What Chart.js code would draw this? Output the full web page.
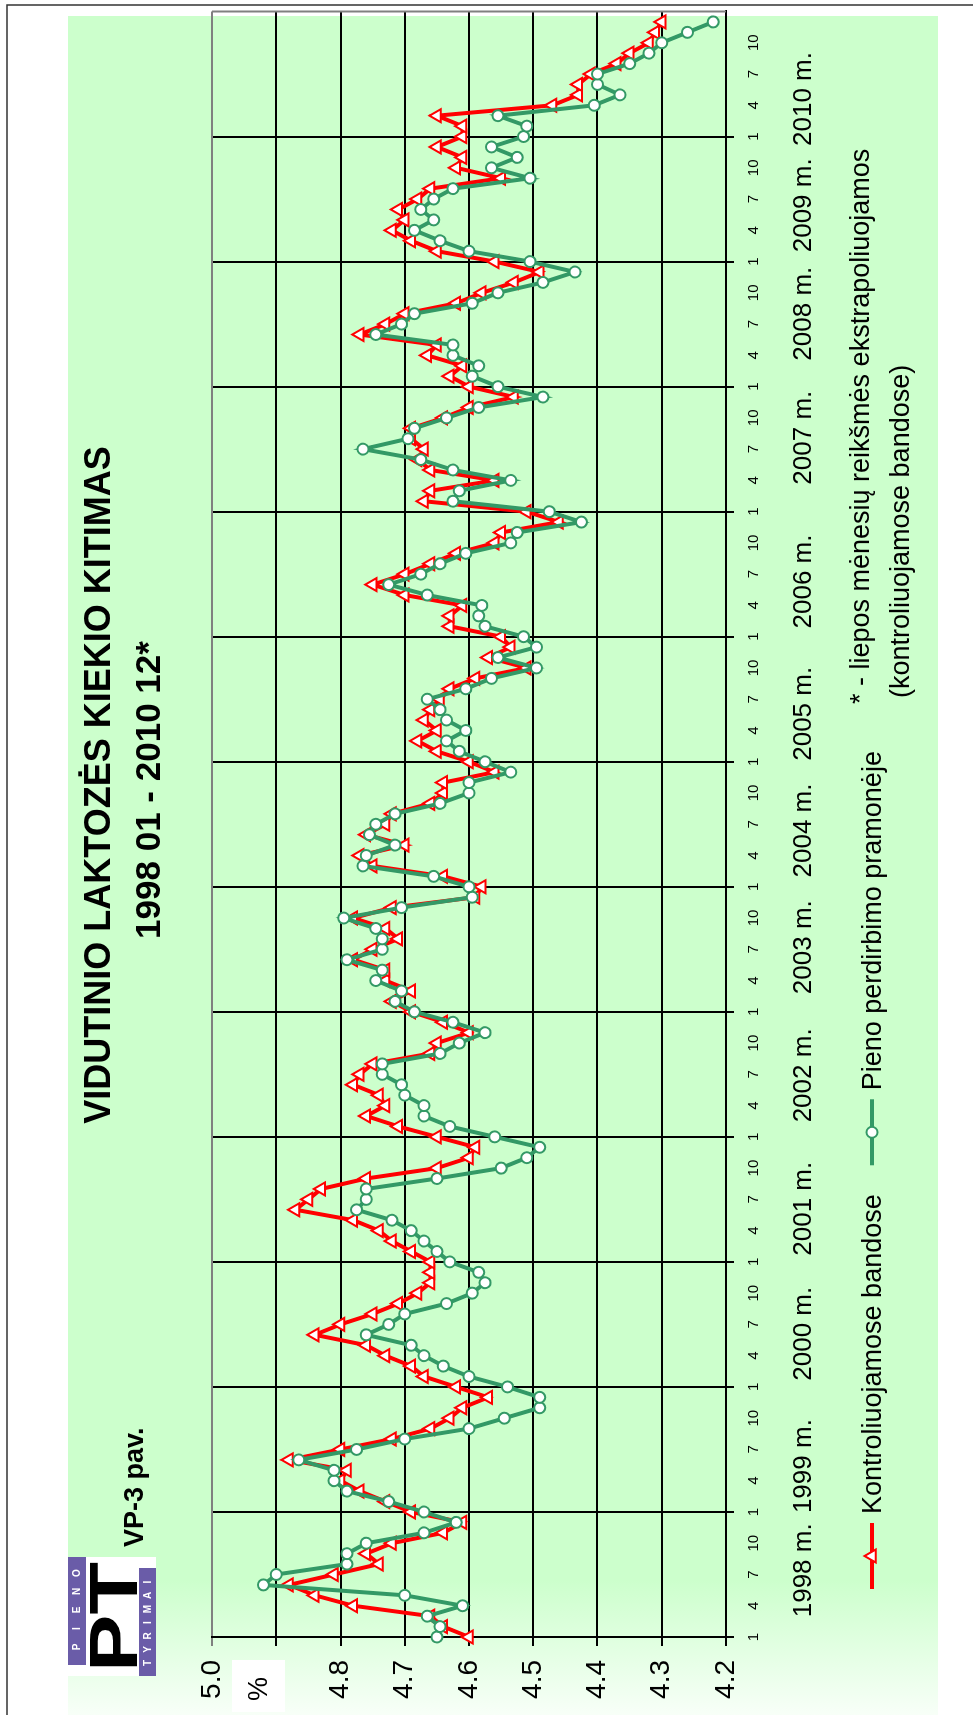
<!DOCTYPE html>
<html>
<head>
<meta charset="utf-8">
<script src="https://cdn.jsdelivr.net/npm/chart.js@4.4.1/dist/chart.umd.min.js"></script>
<style>
  html, body { margin: 0; padding: 0; background: #fff; overflow: hidden; }
  /* chart is drawn landscape and turned a quarter turn, like the scanned page */
  #wrap { position: absolute; left: 0; top: 0; width: 1715px; height: 973px;
          transform-origin: 0 0; transform: translateY(1715px) rotate(-90deg); }
  #chart { width: 1715px; height: 973px; }
</style>
</head>
<body>
<div id="wrap"><canvas id="chart" width="1715" height="973"></canvas></div>
<script>
// month tick labels and year labels under the axis
const monthLabels = ['1', '4', '7', '10'];
const yearLabels = ['1998 m.', '1999 m.', '2000 m.', '2001 m.', '2002 m.', '2003 m.', '2004 m.',
                    '2005 m.', '2006 m.', '2007 m.', '2008 m.', '2009 m.', '2010 m.'];
// where each year label sits, in months from 1998 01
const yearLabelMonths = [6.4, 16.4, 29.1, 41.1, 53.9, 66.2, 77.4, 88.6, 101.3, 115.1, 127.0, 137.4, 147.6];

// Kontroliuojamose bandose, 1998 01 - 2010 12
const controlHerds = [
  4.60, 4.64, 4.66, 4.78, 4.84, 4.88, 4.81, 4.74, 4.76, 4.72, 4.64, 4.61,
  4.69, 4.73, 4.77, 4.80, 4.79, 4.88, 4.80, 4.72, 4.66, 4.63, 4.61, 4.57,
  4.62, 4.67, 4.69, 4.73, 4.76, 4.84, 4.80, 4.75, 4.71, 4.68, 4.66, 4.66,
  4.66, 4.69, 4.72, 4.74, 4.78, 4.87, 4.85, 4.83, 4.76, 4.65, 4.60, 4.59,
  4.65, 4.71, 4.76, 4.73, 4.74, 4.78, 4.77, 4.75, 4.66, 4.65, 4.60, 4.64,
  4.69, 4.72, 4.69, 4.73, 4.73, 4.78, 4.75, 4.71, 4.73, 4.78, 4.72, 4.59,
  4.58, 4.64, 4.75, 4.77, 4.70, 4.76, 4.73, 4.72, 4.66, 4.64, 4.64, 4.56,
  4.60, 4.65, 4.68, 4.65, 4.67, 4.66, 4.645, 4.63, 4.59, 4.51, 4.57, 4.535,
  4.55, 4.63, 4.63, 4.61, 4.70, 4.75, 4.70, 4.66, 4.62, 4.56, 4.55, 4.46,
  4.51, 4.67, 4.66, 4.56, 4.66, 4.68, 4.67, 4.69, 4.69, 4.64, 4.60, 4.53,
  4.60, 4.63, 4.61, 4.665, 4.65, 4.77, 4.73, 4.70, 4.62, 4.58, 4.53, 4.49,
  4.56, 4.65, 4.69, 4.72, 4.70, 4.71, 4.68, 4.66, 4.55, 4.62, 4.61, 4.65,
  4.61, 4.61, 4.65, 4.47, 4.43, 4.43, 4.41, 4.37, 4.35, 4.32, 4.31, 4.30
];

// Pieno perdirbimo pramonėje, 1998 01 - 2010 12
const dairyIndustry = [
  4.65, 4.645, 4.665, 4.61, 4.70, 4.92, 4.90, 4.79, 4.79, 4.76, 4.67, 4.62,
  4.67, 4.725, 4.79, 4.81, 4.81, 4.865, 4.775, 4.70, 4.60, 4.545, 4.49, 4.49,
  4.54, 4.60, 4.64, 4.67, 4.69, 4.76, 4.725, 4.70, 4.635, 4.595, 4.575, 4.585,
  4.63, 4.65, 4.67, 4.69, 4.72, 4.775, 4.76, 4.76, 4.65, 4.55, 4.51, 4.49,
  4.56, 4.63, 4.67, 4.67, 4.70, 4.705, 4.735, 4.735, 4.645, 4.615, 4.575, 4.625,
  4.685, 4.715, 4.705, 4.745, 4.735, 4.79, 4.735, 4.735, 4.745, 4.795, 4.705, 4.595,
  4.60, 4.655, 4.765, 4.76, 4.715, 4.755, 4.745, 4.715, 4.645, 4.60, 4.60, 4.535,
  4.575, 4.615, 4.635, 4.605, 4.635, 4.645, 4.665, 4.605, 4.565, 4.495, 4.555, 4.495,
  4.515, 4.575, 4.585, 4.58, 4.665, 4.725, 4.675, 4.645, 4.605, 4.535, 4.525, 4.425,
  4.475, 4.625, 4.615, 4.535, 4.625, 4.675, 4.765, 4.695, 4.685, 4.635, 4.585, 4.485,
  4.555, 4.595, 4.585, 4.625, 4.625, 4.745, 4.705, 4.685, 4.595, 4.555, 4.485, 4.435,
  4.505, 4.60, 4.645, 4.685, 4.655, 4.675, 4.655, 4.625, 4.505, 4.565, 4.525, 4.565,
  4.515, 4.51, 4.555, 4.405, 4.365, 4.40, 4.40, 4.35, 4.32, 4.30, 4.26, 4.22
];

const FONT = '"Liberation Sans", Arial, sans-serif';
Chart.defaults.font.family = FONT;
Chart.defaults.color = '#000';

const RED = '#ff0000';
const GREEN = '#339966';

function marker(ctx, style, x, y, color) {
  ctx.save();
  ctx.fillStyle = '#fff';
  ctx.strokeStyle = color;
  ctx.lineWidth = 2;
  ctx.beginPath();
  if (style === 'triangle') {
    const r = 7.5;
    ctx.moveTo(x, y - r);
    ctx.lineTo(x + r * Math.sin(2 * Math.PI / 3), y - r * Math.cos(2 * Math.PI / 3));
    ctx.lineTo(x + r * Math.sin(4 * Math.PI / 3), y - r * Math.cos(4 * Math.PI / 3));
    ctx.closePath();
  } else {
    ctx.arc(x, y, 5.5, 0, Math.PI * 2);
  }
  ctx.fill();
  ctx.stroke();
  ctx.restore();
}

// green sheet behind the chart and the thin frame of the page
const sheetPlugin = {
  id: 'sheet',
  beforeDraw(chart) {
    const ctx = chart.ctx;
    ctx.save();
    ctx.fillStyle = '#fff';
    ctx.fillRect(0, 0, chart.width, chart.height);
    const g = ctx.createLinearGradient(0, 0, 135, 0);
    g.addColorStop(0, '#f8fff8');
    g.addColorStop(1, '#ccffcc');
    ctx.fillStyle = g;
    ctx.fillRect(0, 68, 1699, 870);
    ctx.strokeStyle = '#333';
    ctx.lineWidth = 1.5;
    ctx.beginPath();
    ctx.moveTo(0, 7);
    ctx.lineTo(1710, 7);
    ctx.lineTo(1710, chart.height);
    ctx.stroke();
    ctx.restore();
  }
};

// titles, logo, legend, footnote
const decorPlugin = {
  id: 'decor',
  afterDraw(chart) {
    const ctx = chart.ctx;
    const area = chart.chartArea;
    ctx.save();

    // grey right edge of the plot
    ctx.strokeStyle = '#808080';
    ctx.lineWidth = 2;
    ctx.beginPath();
    ctx.moveTo(area.right, area.top);
    ctx.lineTo(area.right, area.bottom);
    ctx.stroke();

    // title
    ctx.fillStyle = '#000';
    ctx.textAlign = 'center';
    ctx.textBaseline = 'alphabetic';
    ctx.font = 'bold 36px ' + FONT;
    ctx.fillText('VIDUTINIO LAKTOZĖS KIEKIO KITIMAS', 930, 110);
    ctx.font = 'bold 35px ' + FONT;
    ctx.fillText('1998 01 - 2010 12*', 925, 160);

    ctx.textAlign = 'left';
    ctx.font = 'bold 27px ' + FONT;
    ctx.fillText('VP-3 pav.', 168, 143);

    // logo
    ctx.fillStyle = '#fff';
    ctx.fillRect(39, 68, 119, 88);
    ctx.fillStyle = '#6a5ca8';
    ctx.fillRect(50, 68, 108, 18);
    ctx.fillRect(39, 139, 108, 17);
    ctx.fillStyle = '#fff';
    ctx.font = 'bold 10px ' + FONT;
    ctx.textAlign = 'center';
    ctx.textBaseline = 'middle';
    'PIENO'.split('').forEach((c, i) => ctx.fillText(c, 68 + i * 18.5, 77));
    'TYRIMAI'.split('').forEach((c, i) => ctx.fillText(c, 52 + i * 13.5, 148));
    ctx.fillStyle = '#000';
    ctx.font = '900 60px ' + FONT;
    ctx.textAlign = 'left';
    ctx.textBaseline = 'alphabetic';
    const w = ctx.measureText('PT').width;
    ctx.save();
    ctx.translate(43, 137);
    ctx.scale(110 / w, 49 / 43);
    ctx.fillText('PT', 0, 0);
    ctx.restore();

    // legend
    ctx.font = '27px ' + FONT;
    ctx.textBaseline = 'alphabetic';
    let x = 126;
    chart.data.datasets.forEach(ds => {
      ctx.strokeStyle = ds.borderColor;
      ctx.lineWidth = 4;
      ctx.beginPath();
      ctx.moveTo(x, 872);
      ctx.lineTo(x + 66, 872);
      ctx.stroke();
      marker(ctx, ds.pointStyle, x + 33, 872, ds.borderColor);
      ctx.fillStyle = '#000';
      ctx.fillText(ds.label, x + 75, 881);
      x += 75 + ctx.measureText(ds.label).width + 29;
    });

    // footnote
    ctx.fillText('* - liepos mėnesių reikšmės ekstrapoliuojamos', 1011, 869);
    ctx.fillText('(kontroliuojamose bandose)', 1017, 909);

    // unit box, sits over the 4.9 label as in the original
    ctx.fillStyle = '#fff';
    ctx.fillRect(3, 232, 52, 53);
    ctx.fillStyle = '#000';
    ctx.textAlign = 'center';
    ctx.textBaseline = 'middle';
    ctx.fillText('%', 26, 260);

    ctx.restore();
  }
};

const months = controlHerds.map((v, i) => i);

new Chart(document.getElementById('chart'), {
  type: 'line',
  data: {
    datasets: [{
      label: 'Kontroliuojamose bandose',
      data: months.map(i => ({ x: i, y: controlHerds[i] })),
      borderColor: RED,
      backgroundColor: '#fff',
      borderWidth: 4,
      pointStyle: 'triangle',
      pointRadius: 7.5,
      pointBorderWidth: 2,
      pointBorderColor: RED,
      pointBackgroundColor: '#fff',
      tension: 0,
      clip: false,
      order: 2
    }, {
      label: 'Pieno perdirbimo pramonėje',
      data: months.map(i => ({ x: i, y: dairyIndustry[i] })),
      borderColor: GREEN,
      backgroundColor: '#fff',
      borderWidth: 4,
      pointStyle: 'circle',
      pointRadius: 5.5,
      pointBorderWidth: 2,
      pointBorderColor: GREEN,
      pointBackgroundColor: '#fff',
      tension: 0,
      clip: false,
      order: 1
    }]
  },
  options: {
    responsive: false,
    devicePixelRatio: 1,
    animation: false,
    layout: { padding: { left: 0, top: 212, right: 11.5, bottom: 147 } },
    plugins: {
      legend: { display: false },
      tooltip: { enabled: false },
      title: { display: false }
    },
    scales: {
      x: {
        type: 'linear',
        position: 'bottom',
        min: 0,
        max: 156,
        afterBuildTicks: s => {
          const t = [];
          for (let m = 0; m < 156; m += 3) t.push({ value: m });
          s.ticks = t;
        },
        afterFit: s => { s.height = 40; },
        grid: {
          color: c => (c.tick && c.tick.value % 12 === 0) ? '#000' : 'rgba(0,0,0,0)',
          lineWidth: 2,
          tickLength: 8
        },
        border: { color: '#000', width: 2 },
        ticks: {
          callback: v => monthLabels[Math.round(v / 3) % 4],
          font: { size: 15 },
          padding: 11,
          autoSkip: false,
          maxRotation: 0,
          minRotation: 0
        }
      },
      x2: {
        type: 'linear',
        axis: 'x',
        position: 'bottom',
        min: 0,
        max: 156,
        afterBuildTicks: s => { s.ticks = yearLabelMonths.map(v => ({ value: v })); },
        afterFit: s => { s.height = 60; },
        grid: { display: false, drawTicks: false },
        border: { display: false },
        ticks: {
          callback: (v, i) => yearLabels[i],
          font: { size: 26 },
          padding: 22,
          autoSkip: false,
          maxRotation: 0,
          minRotation: 0
        }
      },
      y: {
        min: 4.2,
        max: 5.0,
        afterFit: s => { s.width = 78; },
        grid: {
          color: c => (c.tick && c.tick.value > 4.99) ? '#808080' : '#000',
          lineWidth: 2,
          tickLength: 9
        },
        border: { color: '#000', width: 2 },
        ticks: {
          stepSize: 0.1,
          font: { size: 28 },
          padding: 14,
          callback: v => v.toFixed(1)
        }
      }
    }
  },
  plugins: [sheetPlugin, decorPlugin]
});
</script>
</body>
</html>
